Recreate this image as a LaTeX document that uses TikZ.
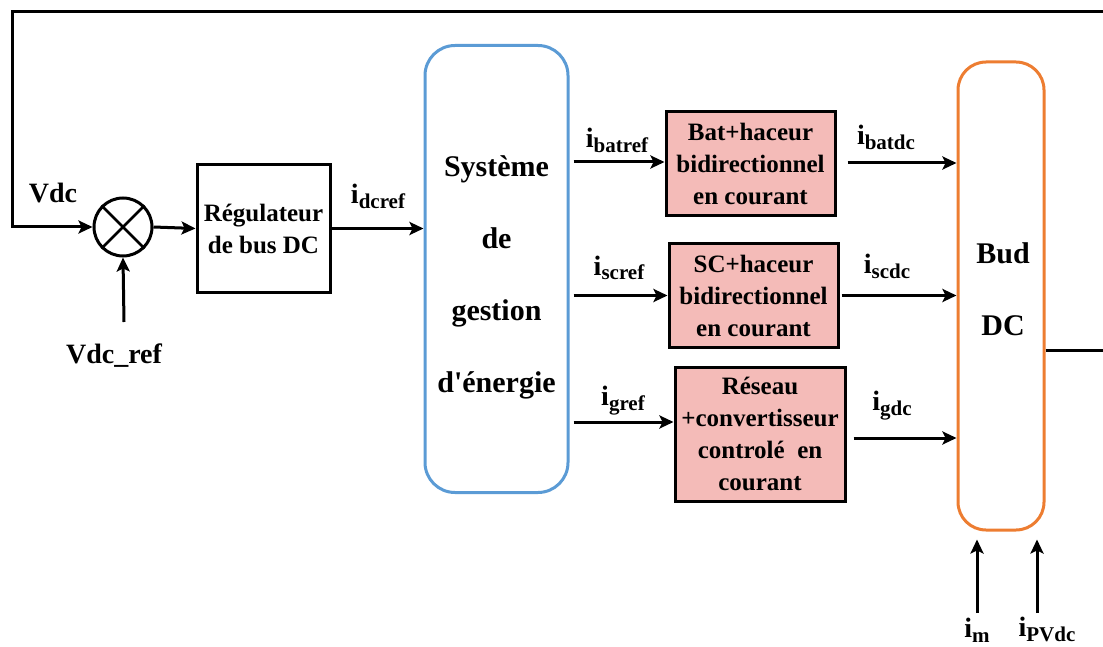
\documentclass[tikz,border=0pt]{standalone}
\usepackage{fontspec}
\setmainfont{Liberation Serif}[Ligatures=TeXOff]
\usetikzlibrary{arrows.meta,calc}
\definecolor{boxpink}{RGB}{244,187,184}
\definecolor{sysblue}{RGB}{91,155,213}
\definecolor{busorange}{RGB}{237,125,49}
\newcommand\isub[1]{i\raisebox{-5pt}{\fontsize{21}{21}\selectfont #1}}
\begin{document}
\begin{tikzpicture}[x=1pt,y=-1pt,
  line/.style={line width=3pt},
  arr/.style={line width=3pt,-{Stealth[length=14pt,width=13pt,inset=3pt]}},
  lbl/.style={font=\fontsize{28}{30}\selectfont\bfseries, inner sep=0pt, anchor=base},
  blk/.style={draw, line width=3pt, align=center, inner sep=0pt, font=\fontsize{25}{32}\selectfont\bfseries},
  pinkblk/.style={blk, fill=boxpink},
  bigtxt/.style={font=\fontsize{30}{72}\selectfont\bfseries, align=center, inner sep=0pt}
]
\useasboundingbox (0,0) rectangle (1103,647);

% summing junction
\node[draw, circle, line width=3pt, minimum size=58pt, inner sep=0pt] (sum) at (123,227) {};
\draw[line width=2.8pt] (sum.north west) -- (sum.south east) (sum.north east) -- (sum.south west);

% blocks
\node[blk, minimum width=133pt, minimum height=127pt] (reg) at (263.5,228.5) {Régulateur\\de bus DC};
\node[draw=sysblue, line width=3pt, rounded corners=30pt, minimum width=143pt, minimum height=447pt] (sys) at (496.5,269) {};
\node[bigtxt] (systxt) at (496.5,277.5) {Système\\de\\gestion\\d'énergie};
\node[pinkblk, minimum width=169pt, minimum height=104pt] (bat) at (750.5,164) {Bat+haceur\\bidirectionnel\\en courant};
\node[pinkblk, minimum width=169pt, minimum height=103pt] (sc) at (753.5,295.5) {SC+haceur\\bidirectionnel\\en courant};
\node[pinkblk, minimum width=170pt, minimum height=134pt] (res) at (760,434) {Réseau\\+convertisseur\\controlé~ en\\courant};
\node[draw=busorange, line width=3pt, rounded corners=28pt, minimum width=86pt, minimum height=468pt] (bus) at (1001,296) {};
\node[bigtxt] (bustxt) at (1003,289) {Bud\\DC};

% coordinates for free ends
\coordinate (tr) at (1103,12);
\coordinate (tl) at (12,12);
\coordinate (vref) at (124,322);
\coordinate (rend) at (1103,350);
\coordinate (imst) at (977,613);
\coordinate (pvst) at (1037,613);

% connectors
\draw[arr] (tr) -- (tl) |- (sum.west);
\draw[arr] (vref) -- (sum.south);
\draw[arr] (sum.east) -- (reg.west);
\draw[arr] (reg.east) -- (reg.east -| sys.west);
\draw[arr, shorten <=4pt] ([yshift=2pt]bat.west -| sys.east) -- ([yshift=2pt]bat.west);
\draw[arr, shorten <=4pt] (sc.west -| sys.east) -- (sc.west);
\draw[arr, shorten <=4pt] ([yshift=12pt]res.west -| sys.east) -- ([yshift=12pt]res.west);
\draw[arr, shorten <=11pt] ([yshift=1pt]bat.east) -- ([yshift=1pt]bat.east -| bus.west);
\draw[arr, shorten <=2pt] (sc.east) -- (sc.east -| bus.west);
\draw[arr, shorten <=7pt] ([yshift=-4pt]res.east) -- ([yshift=-4pt]res.east -| bus.west);
\draw[line] (bus.east |- rend) -- (rend);
\draw[arr, shorten >=8pt] (imst) -- (imst |- bus.south);
\draw[arr, shorten >=8pt] (pvst) -- (pvst |- bus.south);

% labels
\node[lbl] (lvdc) at (53,203) {Vdc};
\node[lbl] (lvref) at (114,363) {Vdc\_ref};
\node[lbl] (lidc) at (378,204) {\isub{dcref}};
\node[lbl] (libr) at (617,148) {\isub{batref}};
\node[lbl] (lisr) at (619,275) {\isub{scref}};
\node[lbl] (ligr) at (623,405) {\isub{gref}};
\node[lbl] (libd) at (886,145) {\isub{batdc}};
\node[lbl] (lisd) at (887,273) {\isub{scdc}};
\node[lbl] (ligd) at (892,410) {\isub{gdc}};
\node[lbl] (lim) at (977,637) {\isub{m}};
\node[lbl] (lipv) at (1047,636) {\isub{PVdc}};
\end{tikzpicture}
\end{document}
